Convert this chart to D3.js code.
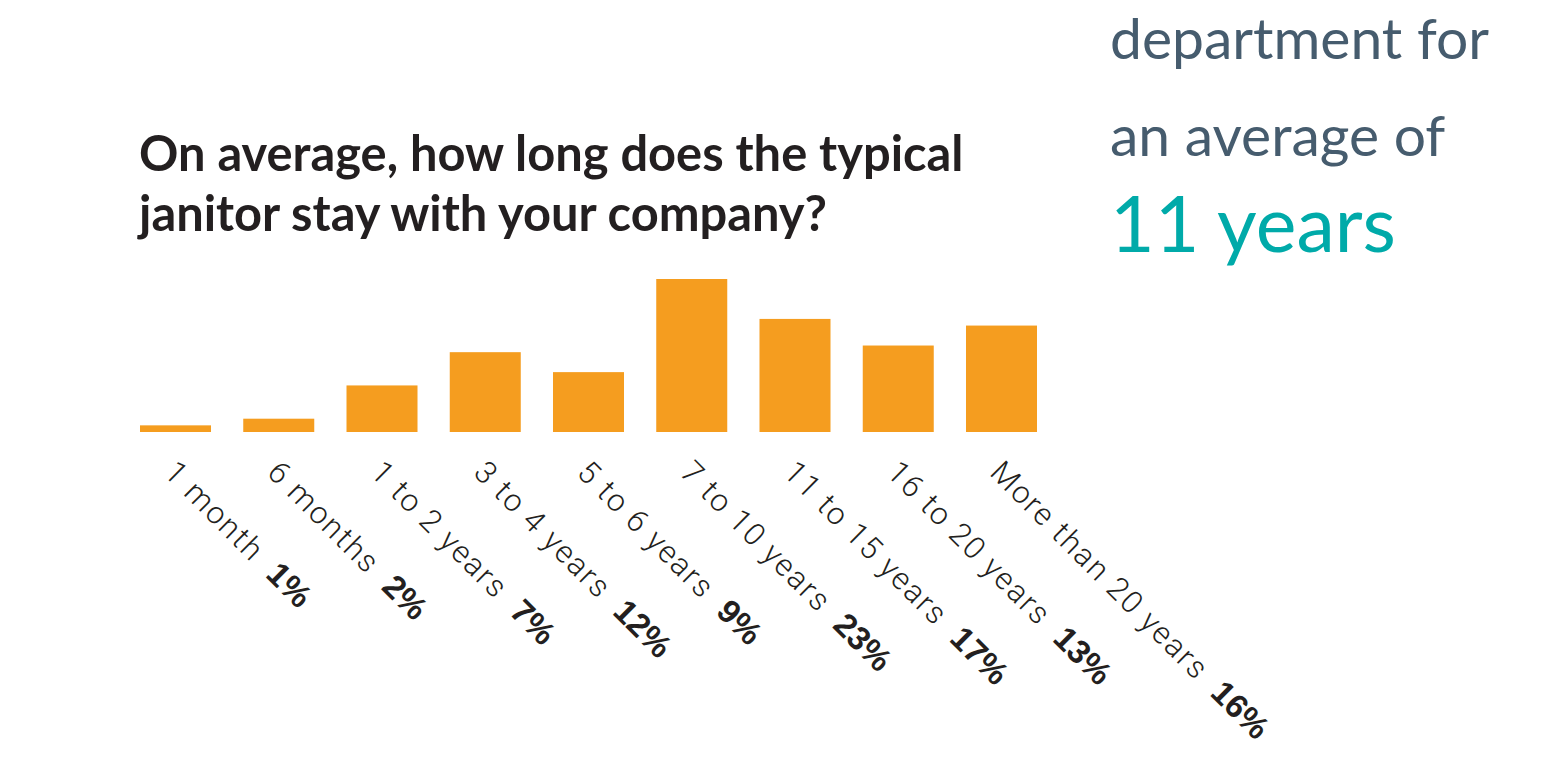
<!DOCTYPE html>
<html><head><meta charset="utf-8">
<script src="https://cdn.jsdelivr.net/npm/d3@7"></script>
<style>html,body{margin:0;padding:0;background:#fff;overflow:hidden}</style>
</head><body>
<svg id="c" width="1552" height="758"></svg>
<script>
const categories = ["1 month","6 months","1 to 2 years","3 to 4 years","5 to 6 years","7 to 10 years","11 to 15 years","16 to 20 years","More than 20 years"];
const values = [1,2,7,12,9,23,17,13,16];
const titleLines = ["On average, how long does the typical","janitor stay with your company?"];
const sideLines = ["department for","an average of"];
const sideHighlight = "11 years";

const svg = d3.select("#c");
const x = d3.scaleBand().domain(categories).range([140,1037]).paddingInner(0.3123).paddingOuter(0);
const y = d3.scaleLinear().domain([0,23]).range([432,279]);

// title
svg.append("g").selectAll("text").data(titleLines).join("text")
  .attr("x",139).attr("y",(d,i)=>171+i*60)
  .attr("font-family","Lato, sans-serif").attr("font-weight",700)
  .attr("font-size",48.8).attr("fill","#231f20").text(d=>d);

// side text
svg.append("g").selectAll("text").data(sideLines).join("text")
  .attr("x",1110).attr("y",(d,i)=>59+i*97)
  .attr("font-family","Lato, sans-serif").attr("font-weight",400)
  .attr("font-size",57).attr("fill","#465c6e").text(d=>d);
svg.append("text").attr("x",1110).attr("y",252)
  .attr("font-family","Lato, sans-serif").attr("font-weight",400)
  .attr("font-size",77).attr("fill","#00aaa9").text(sideHighlight);

// bars
svg.append("g").selectAll("rect").data(values).join("rect")
  .attr("x",(d,i)=>x(categories[i])).attr("width",x.bandwidth())
  .attr("y",d=>y(d)).attr("height",d=>y(0)-y(d))
  .attr("fill","#f59d1f");

// labels
const lab = svg.append("g").selectAll("text").data(categories).join("text")
  .attr("transform",d=>`translate(${x(d)+x.bandwidth()/2-13},474) rotate(45)`)
  .attr("font-family","Roboto, sans-serif").attr("fill","#231f20");
lab.append("tspan").attr("font-weight",300).attr("font-size",31).attr("letter-spacing",1.8).text(d=>d);
lab.append("tspan").attr("dx",18).attr("font-weight",700).attr("font-size",33)
  .attr("font-family","Liberation Sans, Arial, sans-serif")
  .text((d,i)=>values[i]+"%");
</script>
</body></html>
